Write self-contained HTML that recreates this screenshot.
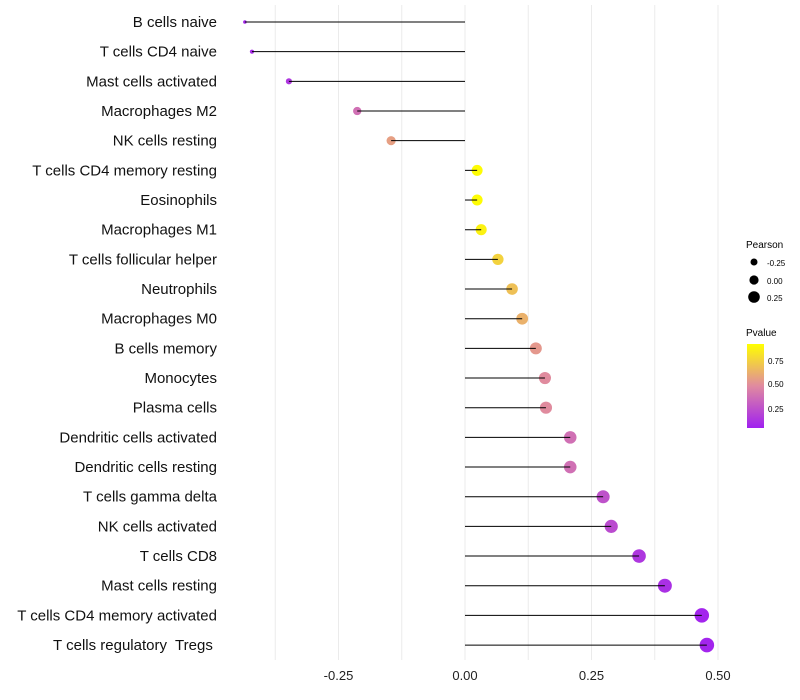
<!DOCTYPE html>
<html><head><meta charset="utf-8"><style>
body{margin:0;background:#fff;font-family:"Liberation Sans",sans-serif}
svg{display:block}
text{white-space:pre}
</style></head><body>
<svg id="chart" width="800" height="700">
<defs><linearGradient id="pg" x1="0" y1="1" x2="0" y2="0">
<stop offset="0" stop-color="#a020f0"/><stop offset="0.5" stop-color="#e08aa0"/><stop offset="1" stop-color="#ffff00"/>
</linearGradient></defs>
<g id="grid"></g><g id="marks"></g><g id="labels"></g>
<g id="legend">
<text x="746" y="248" font-size="10" fill="#000">Pearson</text>
<circle cx="754" cy="262" r="3.5" fill="#000"/>
<text x="767" y="266" font-size="8">-0.25</text>
<circle cx="754" cy="280" r="4.6" fill="#000"/>
<text x="767" y="284" font-size="8">0.00</text>
<circle cx="754" cy="297" r="5.8" fill="#000"/>
<text x="767" y="301" font-size="8">0.25</text>
<text x="746" y="336" font-size="10">Pvalue</text>
<rect x="747" y="344" width="17" height="84" fill="url(#pg)"/>
<text x="768" y="364" font-size="8">0.75</text>
<text x="768" y="387" font-size="8">0.50</text>
<text x="768" y="412" font-size="8">0.25</text>
</g>
</svg>
<script>
const categories=["B cells naive","T cells CD4 naive","Mast cells activated","Macrophages M2","NK cells resting","T cells CD4 memory resting","Eosinophils","Macrophages M1","T cells follicular helper","Neutrophils","Macrophages M0","B cells memory","Monocytes","Plasma cells","Dendritic cells activated","Dendritic cells resting","T cells gamma delta","NK cells activated","T cells CD8","Mast cells resting","T cells CD4 memory activated","T cells regulatory  Tregs "];
const pearson=[-0.435,-0.421,-0.348,-0.213,-0.146,0.024,0.024,0.032,0.065,0.093,0.113,0.140,0.158,0.160,0.208,0.208,0.273,0.289,0.344,0.395,0.468,0.478];
const pvalues=[0.03,0.05,0.1,0.35,0.55,0.92,0.92,0.88,0.75,0.68,0.62,0.52,0.47,0.47,0.35,0.35,0.22,0.19,0.1,0.07,0.02,0.02];
const xTicks=[-0.25,0,0.25,0.5];
const xTickLabels=["-0.25","0.00","0.25","0.50"];
const NS="http://www.w3.org/2000/svg";
const x=v=>465+v*506, y=i=>22+i*29.67;
function mk(t,a,p){const e=document.createElementNS(NS,t);for(const k in a)e.setAttribute(k,a[k]);document.getElementById(p).appendChild(e);return e;}
function hex(h){return [1,3,5].map(i=>parseInt(h.substr(i,2),16));}
function col(p){const t=Math.min(1,p/0.93);const s=[[0,hex("#a020f0")],[0.5,hex("#e08aa0")],[1,hex("#ffff00")]];let a=s[0],b=s[1];if(t>0.5){a=s[1];b=s[2];}const f=(t-a[0])/(b[0]-a[0]);return "rgb("+a[1].map((c,i)=>Math.round(c+(b[1][i]-c)*f)).join(",")+")";}
for(let g=-0.375;g<=0.5;g+=0.125){const l=mk("line",{x1:x(g),x2:x(g),y1:5,y2:660,stroke:"#ebebeb","stroke-width":1},"grid");

}
xTicks.forEach((v,i)=>{const t=mk("text",{x:x(v),y:680,"text-anchor":"middle","font-size":"13",fill:"#222"},"labels");t.textContent=xTickLabels[i];

});
categories.forEach((c,i)=>{
const t=mk("text",{x:217,y:y(i)+5,"text-anchor":"end","font-size":"15",fill:"#111"},"labels");t.textContent=c;


const v=pearson[i];
const dot=mk("circle",{cx:x(v),cy:y(i),r:1+6.5*Math.sqrt(Math.max(0,v+0.45)),fill:col(pvalues[i])},"marks");


const s=mk("line",{x1:x(0),x2:x(v),y1:y(i),y2:y(i),stroke:"#000","stroke-width":1},"marks");


});
</script>
</body></html>
